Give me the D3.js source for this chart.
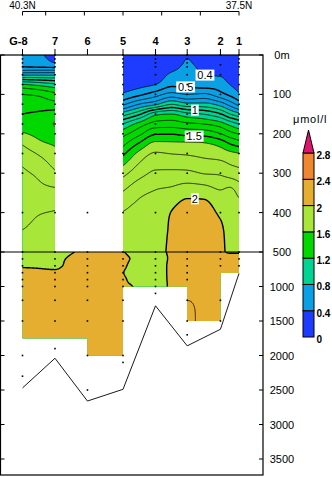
<!DOCTYPE html>
<html>
<head>
<meta charset="utf-8">
<title>Nutrient section</title>
<script src="https://cdn.jsdelivr.net/npm/d3@7/dist/d3.min.js"></script>
<style>
  html, body { margin: 0; padding: 0; background: #fff; }
  svg { display: block; font-family: "Liberation Sans", Arial, sans-serif; }
</style>
</head>
<body>
<svg id="chart" width="332" height="477"></svg>
<script>
// ---- stations along the section ----
const stationNames = ["G-8", "7", "6", "5", "4", "3", "2", "1"];
const stationLats  = [40.30, 39.88, 39.46, 39.00, 38.58, 38.17, 37.74, 37.50];
const bottomDepths = [2470, 2040, 2660, 2490, 1280, 1860, 1620, 810];
// deepest gridded level between neighbouring stations (lower panel)
const sectionFloor = [1750, 1750, 2000, 1000, 1000, 1500, 800];

// bottle depths (m) per station
const sampleDepths = [
  [0,10,20,30,50,75,100,125,150,175,200,250,300,400,500,600,700,800,900,1000,1200,1500,2000,2300],
  [0,10,20,30,50,75,100,125,150,175,200,250,300,400,500,600,700,800,900,1000,1200,1500,1900],
  [400,500,600,700,800,900,1000,1200,1500,2000,2500],
  [0,10,20,30,50,75,100,125,150,175,200,250,300,400,500,600,700,800,900,1000,1200,1500,2000,2100],
  [0,10,20,30,50,75,100,125,150,175,200,250,300,400,500,600,700,800,900,1000,1100],
  [0,10,20,30,50,75,100,125,150,175,200,250,300,400,500,600,700,800,900,1200,1500,1700],
  [0,25,50,100,150,200,300,400,500,600,700,1200,1500],
  [0,10,20,30,50,75,100,125,150,175,200,250,300,400,500,600,700]
];

// ---- axes ----
const latTicks = [40.3, 40.0, 39.5, 39.0, 38.5, 38.0, 37.5];
const latLabels = [[40.3, "40.3N"], [37.5, "37.5N"]];
const depthTicks = [0, 100, 200, 300, 400, 500, 1000, 1500, 2000, 2500, 3000, 3500];

// ---- colour bands (µmol/l) ----
const bandLevels = [0, 0.4, 0.8, 1.2, 1.6, 2.0, 2.4, 2.8];
const bandColors = ["#1e3cff", "#0aa0e6", "#00d492", "#00d800", "#a8e63a", "#e6ae30", "#f08630", "#e0146e"];
const legendLabels = ["0", "0.4", "0.8", "1.2", "1.6", "2", "2.4", "2.8"];
const lineLevels = d3.range(4, 22).map(k => k / 10);          // 0.4 … 2.1
const boldLevels = [0.5, 1.0, 1.5, 2.0];

// ---- upper panel, stations G-8 to 7 (0–500 m) ----
const upperDepths = [0,10,20,30,50,75,100,125,150,175,200,225,250,300,350,400,450,500];
const ulLats = [40.30, 40.09, 39.88];
const ulProfiles = [
  [0.45,0.46,0.48,0.50,0.78,1.21,1.40,1.45,1.50,1.55,1.61,1.69,1.75,1.817,1.846,1.875,1.903,1.92],
  [0.42,0.43,0.45,0.49,0.78,1.17,1.38,1.44,1.52,1.56,1.58,1.62,1.69,1.78,1.83,1.895,1.915,1.93],
  [0.35,0.37,0.40,0.48,0.78,1.12,1.33,1.43,1.55,1.605,1.57,1.59,1.63,1.715,1.83,1.905,1.92,1.935]
];

// ---- upper panel, stations 5 to 1 (0–500 m) ----
const urLats = [39.00, 38.79, 38.58, 38.37, 38.17, 37.95, 37.74, 37.62, 37.50];
const urProfiles = [
  [0.30,0.30,0.30,0.31,0.32,0.35,0.414,0.578,0.85,1.10,1.264,1.37,1.477,1.668,1.81,1.904,1.934,1.964],
  [0.30,0.30,0.30,0.31,0.33,0.37,0.478,0.703,0.982,1.238,1.375,1.512,1.629,1.762,1.88,1.93,1.95,1.985],
  [0.30,0.30,0.31,0.32,0.34,0.40,0.555,0.782,1.168,1.339,1.491,1.625,1.709,1.816,1.91,1.93,1.95,1.96],
  [0.30,0.31,0.33,0.36,0.42,0.476,0.635,0.897,1.20,1.347,1.494,1.621,1.697,1.821,1.932,2.005,2.02,2.03],
  [0.38,0.40,0.41,0.42,0.44,0.47,0.60,0.833,1.133,1.32,1.47,1.619,1.689,1.821,1.97,2.05,2.07,2.08],
  [0.32,0.33,0.35,0.37,0.398,0.45,0.617,0.832,1.095,1.298,1.462,1.61,1.672,1.795,1.965,2.045,2.065,2.075],
  [0.30,0.31,0.33,0.35,0.39,0.45,0.535,0.756,1.01,1.244,1.403,1.562,1.65,1.786,1.916,1.98,2.03,2.04],
  [0.30,0.30,0.31,0.32,0.35,0.40,0.479,0.664,0.905,1.168,1.34,1.498,1.624,1.755,1.93,1.94,1.955,1.97],
  [0.30,0.30,0.30,0.31,0.33,0.36,0.417,0.564,0.832,1.095,1.294,1.45,1.603,1.733,1.88,1.93,1.96,1.985]
];

// ---- lower panel (500–2000 m) ----
const lowerDepths = [500,600,700,800,900,1000,1250,1500,1750,2000];
const lowLats = [40.30, 39.88, 39.46, 39.00, 38.79, 38.58, 38.37, 38.17, 37.95, 37.74, 37.62, 37.50];
const lowProfiles = [
  [1.93,1.96,1.99,2.03,2.05,2.06,2.07,2.07,2.06,2.06],
  [1.95,1.975,1.99,2.01,2.04,2.05,2.06,2.06,2.06,2.06],
  [2.02,2.05,2.06,2.07,2.07,2.07,2.07,2.07,2.07,2.07],
  [2.004,2.03,2.015,2.002,2.015,2.03,2.05,2.06,2.06,2.06],
  [1.90,1.957,1.95,1.95,1.95,1.98,2.0,2.0,2.0,2.0],
  [1.93,1.95,1.96,1.96,1.96,1.96,1.97,1.98,1.98,1.98],
  [2.03,2.02,2.02,2.02,2.02,2.02,2.03,2.04,2.04,2.04],
  [2.06,2.07,2.07,2.07,2.08,2.08,2.105,2.12,2.12,2.12],
  [2.07,2.07,2.07,2.07,2.07,2.07,2.08,2.07,2.07,2.07],
  [2.02,2.06,2.06,2.06,2.06,2.06,2.06,2.06,2.06,2.06],
  [1.99,2.04,2.05,2.05,2.05,2.05,2.05,2.05,2.05,2.05],
  [1.99,2.04,2.05,2.05,2.05,2.05,2.05,2.05,2.05,2.05]
];

// contour labels placed on their isolines
const contourLabels = [
  { text: "0.4", lat: 37.94, depth: 51 },
  { text: "0.5", lat: 38.19, depth: 81 },
  { text: "1",   lat: 38.07, depth: 140 },
  { text: "1.5", lat: 38.08, depth: 206 },
  { text: "2",   lat: 38.07, depth: 365 }
];

// ---- scales ----
const x = d3.scaleLinear().domain([40.3, 37.5]).range([22.5, 239]);
const yUpper = d3.scaleLinear().domain([0, 500]).range([55, 252]);
const yLower = d3.scaleLinear().domain([500, 3500]).range([252, 459]);
const yDepth = d => d <= 500 ? yUpper(d) : yLower(d);
const frame = { left: 0.5, right: 263, top: 55, bottom: 475 };

const svg = d3.select("#chart");
const defs = svg.append("defs");

// monotone cubic (Fritsch–Carlson) interpolant through (xs, ys)
function monotone(xs, ys) {
  const n = xs.length, d = [], m = [];
  for (let i = 0; i < n - 1; i++) d[i] = (ys[i + 1] - ys[i]) / (xs[i + 1] - xs[i]);
  m[0] = d[0]; m[n - 1] = d[n - 2];
  for (let i = 1; i < n - 1; i++) m[i] = d[i - 1] * d[i] <= 0 ? 0 : (d[i - 1] + d[i]) / 2;
  for (let i = 0; i < n - 1; i++) {
    if (d[i] === 0) { m[i] = 0; m[i + 1] = 0; continue; }
    const a = m[i] / d[i], b = m[i + 1] / d[i], s = a * a + b * b;
    if (s > 9) { const t = 3 / Math.sqrt(s); m[i] = t * a * d[i]; m[i + 1] = t * b * d[i]; }
  }
  return v => {
    if (v <= xs[0]) return ys[0];
    if (v >= xs[n - 1]) return ys[n - 1];
    const i = Math.min(n - 2, d3.bisectRight(xs, v) - 1);
    const h = xs[i + 1] - xs[i], t = (v - xs[i]) / h, t2 = t * t, t3 = t2 * t;
    return (2*t3 - 3*t2 + 1) * ys[i] + (t3 - 2*t2 + t) * h * m[i]
         + (-2*t3 + 3*t2) * ys[i + 1] + (t3 - t2) * h * m[i + 1];
  };
}

// gridded field on a 1-px lattice (padded so contour rims fall outside the clip)
function field(lats, depths, profiles, pad) {
  const colX = lats.map(x), rowY = depths.map(yDepth);
  const x0 = Math.floor(colX[0]) - pad, x1 = Math.ceil(colX[colX.length - 1]) + pad;
  const y0 = Math.floor(rowY[0]) - pad, y1 = Math.ceil(rowY[rowY.length - 1]) + pad;
  const nx = x1 - x0, ny = y1 - y0;
  const colFns = profiles.map(p => monotone(rowY, p));
  const values = new Float64Array(nx * ny);
  for (let j = 0; j < ny; j++) {
    const yy = y0 + j + 0.5;
    const across = monotone(colX, colFns.map(f => f(yy)));
    for (let i = 0; i < nx; i++) values[j * nx + i] = across(x0 + i + 0.5);
  }
  return { values, nx, ny, x0, y0 };
}

function drawField(F, clipId) {
  const path = d3.geoPath(d3.geoIdentity().translate([F.x0, F.y0]));
  const gen = d3.contours().size([F.nx, F.ny]);
  const g = svg.append("g").attr("clip-path", `url(#${clipId})`);
  bandLevels.forEach((lv, k) => {
    g.append("path").attr("d", path(gen.contour(F.values, lv)))
      .attr("fill", bandColors[k]).attr("stroke", bandColors[k]).attr("stroke-width", 0.4);
  });
  lineLevels.forEach(lv => {
    const bold = boldLevels.some(b => Math.abs(b - lv) < 1e-6);
    g.append("path").attr("d", path(gen.contour(F.values, lv)))
      .attr("fill", "none").attr("stroke", "#000")
      .attr("stroke-width", bold ? 1.4 : 0.8).attr("stroke-linejoin", "round");
  });
}

// ---- clip regions ----
defs.append("clipPath").attr("id", "clipUL").append("rect")
  .attr("x", x(ulLats[0])).attr("y", yUpper(0))
  .attr("width", x(ulLats[ulLats.length - 1]) - x(ulLats[0]))
  .attr("height", yUpper(500) - yUpper(0));
defs.append("clipPath").attr("id", "clipUR").append("rect")
  .attr("x", x(urLats[0])).attr("y", yUpper(0))
  .attr("width", x(urLats[urLats.length - 1]) - x(urLats[0]))
  .attr("height", yUpper(500) - yUpper(0));

const lowerOutline = [[stationLats[0], 500], [stationLats[stationLats.length - 1], 500]];
for (let i = sectionFloor.length - 1; i >= 0; i--) {
  lowerOutline.push([stationLats[i + 1], sectionFloor[i]]);
  lowerOutline.push([stationLats[i], sectionFloor[i]]);
}
defs.append("clipPath").attr("id", "clipLow").append("path")
  .attr("d", d3.line().x(p => x(p[0])).y(p => yDepth(p[1]))(lowerOutline) + "Z");

// ---- filled contours ----
drawField(field(ulLats, upperDepths, ulProfiles, 3), "clipUL");
drawField(field(urLats, upperDepths, urProfiles, 3), "clipUR");
drawField(field(lowLats, lowerDepths, lowProfiles, 3), "clipLow");

// ---- contour labels ----
const labG = svg.append("g").attr("font-size", 11).attr("text-anchor", "middle");
contourLabels.forEach(l => {
  const cx = x(l.lat), cy = yDepth(l.depth);
  const w = l.text.length * 5.6 + 2;
  labG.append("rect").attr("x", cx - w / 2).attr("y", cy - 5.5).attr("width", w).attr("height", 11).attr("fill", "#fff");
  labG.append("text").attr("x", cx).attr("y", cy + 4).text(l.text);
});

// ---- sample dots ----
const dotG = svg.append("g").attr("fill", "#000");
sampleDepths.forEach((ds, i) => {
  ds.forEach(d => {
    dotG.append("rect").attr("x", x(stationLats[i]) - 0.8).attr("y", yDepth(d) - 0.8)
      .attr("width", 1.6).attr("height", 1.6);
  });
});

// ---- bottom topography ----
svg.append("path")
  .attr("d", d3.line().x((d, i) => x(stationLats[i])).y(d => yDepth(d))(bottomDepths))
  .attr("fill", "none").attr("stroke", "#000").attr("stroke-width", 0.9);

// ---- frame, panel divider, depth axis ----
const axG = svg.append("g").attr("stroke", "#000").attr("fill", "none");
axG.append("rect").attr("x", frame.left).attr("y", frame.top)
  .attr("width", frame.right - frame.left).attr("height", frame.bottom - frame.top).attr("stroke-width", 1.2);
axG.append("line").attr("x1", frame.left).attr("x2", frame.right)
  .attr("y1", yDepth(500)).attr("y2", yDepth(500)).attr("stroke-width", 1.2);
depthTicks.forEach(d => {
  const yy = yDepth(d);
  axG.append("line").attr("x1", frame.left).attr("x2", frame.left + 4).attr("y1", yy).attr("y2", yy);
  axG.append("line").attr("x1", frame.right - 4).attr("x2", frame.right).attr("y1", yy).attr("y2", yy);
});
const depthLab = svg.append("g").attr("font-size", 11).attr("text-anchor", "middle").attr("fill", "#000");
depthTicks.forEach(d => {
  depthLab.append("text").attr("x", 282).attr("y", yDepth(d) + 4).text(d === 0 ? "0m" : d);
});

// ---- station ticks and names ----
stationLats.forEach((lat, i) => {
  axG.append("line").attr("x1", x(lat)).attr("x2", x(lat)).attr("y1", 49).attr("y2", frame.top);
});
const stG = svg.append("g").attr("font-size", 11).attr("font-weight", "bold").attr("fill", "#000");
stationNames.forEach((s, i) => {
  const t = stG.append("text").attr("y", 45).text(s);
  if (s === "G-8") t.attr("x", x(stationLats[i]) + 5).attr("text-anchor", "end");
  else t.attr("x", x(stationLats[i])).attr("text-anchor", "middle");
});

// ---- latitude axis ----
axG.append("line").attr("x1", x(40.3)).attr("x2", x(37.5)).attr("y1", 11.5).attr("y2", 11.5);
latTicks.forEach(l => {
  axG.append("line").attr("x1", x(l)).attr("x2", x(l)).attr("y1", 11.5).attr("y2", 15.5);
});
const latG = svg.append("g").attr("font-size", 10).attr("text-anchor", "middle").attr("fill", "#000");
latLabels.forEach(([l, s]) => latG.append("text").attr("x", x(l)).attr("y", 9).text(s));

// ---- colour legend ----
const legX = 303, legW = 11, legTop = 153, legBottom = 337;
const ly = d3.scaleLinear().domain([0, 2.8]).range([legBottom, legTop]);
const legG = svg.append("g");
bandLevels.slice(0, -1).forEach((lv, k) => {
  legG.append("rect").attr("x", legX).attr("y", ly(bandLevels[k + 1]))
    .attr("width", legW).attr("height", ly(lv) - ly(bandLevels[k + 1]))
    .attr("fill", bandColors[k]).attr("stroke", "#000").attr("stroke-width", 1);
});
legG.append("path")
  .attr("d", `M${legX},${legTop}L${legX + legW / 2},${legTop - 23}L${legX + legW},${legTop}Z`)
  .attr("fill", bandColors[bandColors.length - 1]).attr("stroke", "#000").attr("stroke-width", 1);
const legLab = legG.append("g").attr("font-size", 10).attr("font-weight", "bold").attr("fill", "#000");
bandLevels.forEach((lv, k) => {
  legLab.append("text").attr("x", legX + legW + 2.5).attr("y", ly(lv) + 6).text(legendLabels[k]);
});
legG.append("text").attr("x", 293).attr("y", 123).attr("font-size", 11)
  .attr("letter-spacing", 0.8).attr("fill", "#000").text("μmol/l");
</script>
</body>
</html>
